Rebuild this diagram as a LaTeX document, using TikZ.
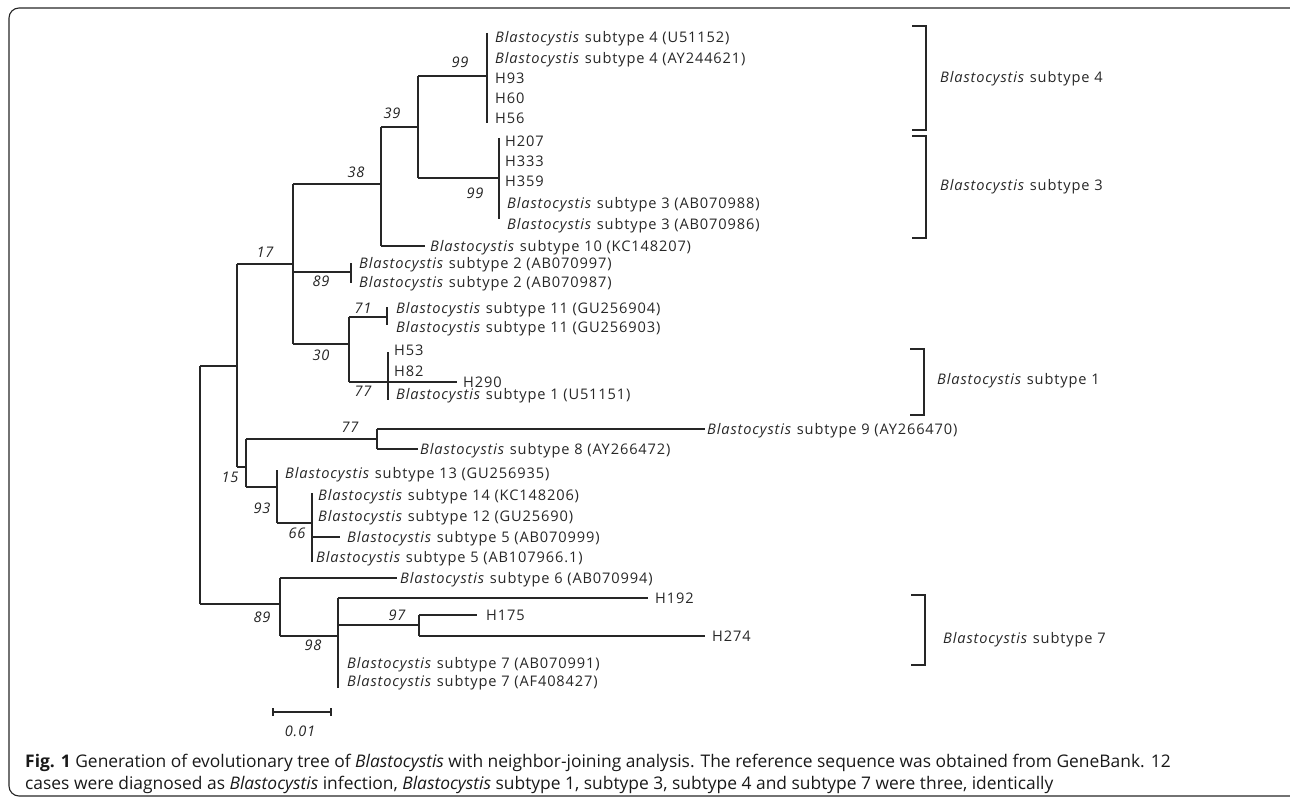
\documentclass[tikz,border=0pt]{standalone}
\usepackage{fontspec}
\setmainfont{Open Sans}
\newfontfamily\lblfam[LetterSpace=6]{Open Sans}
\newcommand\Bl{\textit{Blastocystis}}
\newcommand\lblf{\lblfam\fontsize{14.6}{17}\selectfont}
\begin{document}
\begin{tikzpicture}[x=1pt,y=-1pt,
  br/.style={line width=1.3pt, draw=black!85},
  lab/.style={anchor=base west, yshift=-5.2pt, inner sep=0pt, font=\lblf, text=black!85},
  bs/.style={anchor=base, yshift=-5.2pt, inner sep=0pt, font=\lblf\itshape, text=black!85},
  grp/.style={anchor=base west, yshift=-5.2pt, inner sep=0pt, font=\lblf, text=black!85},
  brk/.style={line width=1.3pt, draw=black!85},
  captxt/.style={anchor=base west, inner sep=0pt, font=\fontsize{17.4}{21}\selectfont, text=black!90},
  frm/.style={line width=1.1pt, draw=black!85, rounded corners=10pt}]
\useasboundingbox (0,0) rectangle (1290,797);
\begin{scope}
\clip (0,0) rectangle (1290,797);
\draw[frm] (9,8) rectangle (1300,796);
\end{scope}
% ---- internal nodes
\coordinate (R) at (200,485);
\coordinate (A) at (237,366);
\coordinate (N17) at (293,264);
\coordinate (N38) at (381,184);
\coordinate (N39) at (418,127);
\coordinate (N99a) at (487,76);
\coordinate (N99b) at (499,178);
\coordinate (T10) at (425,246);
\coordinate (N89a) at (351,272);
\coordinate (N30) at (349,344);
\coordinate (N71) at (387,317);
\coordinate (N77a) at (388,382);
\coordinate (N15) at (246,467);
\coordinate (N77b) at (377,439);
\coordinate (T9) at (705,429);
\coordinate (T8) at (418,449);
\coordinate (N93) at (277,487);
\coordinate (N66) at (312,523);
\coordinate (T5a) at (340,537);
\coordinate (N89b) at (280,604);
\coordinate (T6) at (397,578);
\coordinate (N98) at (338,636);
\coordinate (TH192) at (648,598);
\coordinate (N97) at (419,625);
\coordinate (TH175) at (477,615);
\coordinate (TH274) at (705,636);
\coordinate (TH290) at (457,382);
% collapsed clade extents
\coordinate (c4t) at (487,33);  \coordinate (c4b) at (487,123);
\coordinate (c3t) at (499,138); \coordinate (c3b) at (499,219);
\coordinate (c2t) at (351,263); \coordinate (c2b) at (351,283);
\coordinate (c11t) at (387,307); \coordinate (c11b) at (387,325);
\coordinate (c1t) at (388,352); \coordinate (c1b) at (388,400);
\coordinate (c13t) at (277,470);
\coordinate (c66t) at (312,493); \coordinate (c66b) at (312,562);
\coordinate (c7b) at (338,688);
% ---- branches
\draw[br] (R |- A) -- (R |- N89b);
\draw[br] (R |- A) -- (A);
\draw[br] (R |- N89b) -- (N89b);
\draw[br] (A |- N17) -- (A |- N15);
\draw[br] (A |- N17) -- (N17);
\draw[br] (A |- N15) -- (N15);
\draw[br] (N17 |- N38) -- (N17 |- N30);
\draw[br] (N17 |- N38) -- (N38);
\draw[br] (N17 |- N89a) -- (N89a);
\draw[br] (N17 |- N30) -- (N30);
\draw[br] (N38 |- N39) -- (N38 |- T10);
\draw[br] (N38 |- N39) -- (N39);
\draw[br] (N38 |- T10) -- (T10);
\draw[br] (N39 |- N99a) -- (N39 |- N99b);
\draw[br] (N39 |- N99a) -- (N99a);
\draw[br] (N39 |- N99b) -- (N99b);
\draw[br] (c4t) -- (c4b);
\draw[br] (c3t) -- (c3b);
\draw[br] (c2t) -- (c2b);
\draw[br] (N30 |- N71) -- (N30 |- N77a);
\draw[br] (N30 |- N71) -- (N71);
\draw[br] (N30 |- N77a) -- (N77a);
\draw[br] (c11t) -- (c11b);
\draw[br] (c1t) -- (c1b);
\draw[br] (N77a) -- (TH290);
\draw[br] (N15 |- N77b) -- (N15 |- N93);
\draw[br] (N15 |- N77b) -- (N77b);
\draw[br] (N15 |- N93) -- (N93);
\draw[br] (N77b |- T9) -- (N77b |- T8);
\draw[br] (N77b |- T9) -- (T9);
\draw[br] (N77b |- T8) -- (T8);
\draw[br] (c13t) -- (N93 |- N66);
\draw[br] (N93 |- N66) -- (N66);
\draw[br] (c66t) -- (c66b);
\draw[br] (N66 |- T5a) -- (T5a);
\draw[br] (N89b |- T6) -- (N89b |- N98);
\draw[br] (N89b |- T6) -- (T6);
\draw[br] (N89b |- N98) -- (N98);
\draw[br] (N98 |- TH192) -- (c7b);
\draw[br] (N98 |- TH192) -- (TH192);
\draw[br] (N98 |- N97) -- (N97);
\draw[br] (N97 |- TH175) -- (N97 |- TH274);
\draw[br] (N97 |- TH175) -- (TH175);
\draw[br] (N97 |- TH274) -- (TH274);
% ---- leaf labels
\node[lab] (s4a) at (495,37) {\Bl\ subtype 4 (U51152)};
\node[lab] (s4b) at (495,58) {\Bl\ subtype 4 (AY244621)};
\node[lab] (h93) at (495,78) {H93};
\node[lab] (h60) at (495,98) {H60};
\node[lab] (h56) at (495,118) {H56};
\node[lab] (h207) at (505,141) {H207};
\node[lab] (h333) at (505,161) {H333};
\node[lab] (h359) at (505,181) {H359};
\node[lab] (s3a) at (507,203) {\Bl\ subtype 3 (AB070988)};
\node[lab] (s3b) at (507,224) {\Bl\ subtype 3 (AB070986)};
\node[lab] (s10) at (430,246) {\Bl\ subtype 10 (KC148207)};
\node[lab] (s2a) at (359,263) {\Bl\ subtype 2 (AB070997)};
\node[lab] (s2b) at (359,282) {\Bl\ subtype 2 (AB070987)};
\node[lab] (s11a) at (396,308) {\Bl\ subtype 11 (GU256904)};
\node[lab] (s11b) at (396,327) {\Bl\ subtype 11 (GU256903)};
\node[lab] (h53) at (394,350) {H53};
\node[lab] (h82) at (394,371) {H82};
\node[lab] (h290) at (463,382) {H290};
\node[lab] (s1) at (396,394) {\Bl\ subtype 1 (U51151)};
\node[lab] (s9) at (707,429) {\Bl\ subtype 9 (AY266470)};
\node[lab] (s8) at (420,449) {\Bl\ subtype 8 (AY266472)};
\node[lab] (s13) at (285,473) {\Bl\ subtype 13 (GU256935)};
\node[lab] (s14) at (318,495) {\Bl\ subtype 14 (KC148206)};
\node[lab] (s12) at (318,516) {\Bl\ subtype 12 (GU25690)};
\node[lab] (s5a) at (347,537) {\Bl\ subtype 5 (AB070999)};
\node[lab] (s5b) at (316,557) {\Bl\ subtype 5 (AB107966.1)};
\node[lab] (s6) at (400,578) {\Bl\ subtype 6 (AB070994)};
\node[lab] (h192) at (655,598) {H192};
\node[lab] (h175) at (486,615) {H175};
\node[lab] (h274) at (712,636) {H274};
\node[lab] (s7a) at (347,663) {\Bl\ subtype 7 (AB070991)};
\node[lab] (s7b) at (347,681) {\Bl\ subtype 7 (AF408427)};
% ---- bootstrap values
\node[bs] (b99a) at (460,62) {99};
\node[bs] (b39) at (392,113) {39};
\node[bs] (b99b) at (475,193) {99};
\node[bs] (b38) at (356,172) {38};
\node[bs] (b17) at (265,252) {17};
\node[bs] (b89a) at (321,281) {89};
\node[bs] (b71) at (363,308) {71};
\node[bs] (b30) at (321,355) {30};
\node[bs] (b77a) at (363,391) {77};
\node[bs] (b77b) at (350,427) {77};
\node[bs] (b15) at (230,477) {15};
\node[bs] (b93) at (262,508) {93};
\node[bs] (b66) at (297,533) {66};
\node[bs] (b89b) at (262,617) {89};
\node[bs] (b97) at (397,615) {97};
\node[bs] (b98) at (313,645) {98};
% ---- group brackets
\coordinate (g4a) at (912,26); \coordinate (g4b) at (926,26); \coordinate (g4c) at (926,130); \coordinate (g4d) at (912,130);
\draw[brk] (g4a) -- (g4b) -- (g4c) -- (g4d);
\coordinate (g3a) at (912,136); \coordinate (g3b) at (926,136); \coordinate (g3c) at (926,238); \coordinate (g3d) at (912,238);
\draw[brk] (g3a) -- (g3b) -- (g3c) -- (g3d);
\coordinate (g1a) at (910,349); \coordinate (g1b) at (924,349); \coordinate (g1c) at (924,415); \coordinate (g1d) at (910,415);
\draw[brk] (g1a) -- (g1b) -- (g1c) -- (g1d);
\coordinate (g7a) at (911,595); \coordinate (g7b) at (925,595); \coordinate (g7c) at (925,665); \coordinate (g7d) at (911,665);
\draw[brk] (g7a) -- (g7b) -- (g7c) -- (g7d);
\node[grp] (G4) at (940,77) {\Bl\ subtype 4};
\node[grp] (G3) at (940,185) {\Bl\ subtype 3};
\node[grp] (G1) at (937,379) {\Bl\ subtype 1};
\node[grp] (G7) at (943,638) {\Bl\ subtype 7};
% ---- scale bar
\coordinate (sbl) at (273,712); \coordinate (sbr) at (331,712);
\draw[br] (sbl) -- (sbr);
\draw[br] ([yshift=-4pt]sbl) -- ([yshift=4pt]sbl);
\draw[br] ([yshift=-4pt]sbr) -- ([yshift=4pt]sbr);
\node[bs] (sbt) at (300,731) {0.01};
% ---- caption
\node[captxt] (cap1) at (25,767) {\textbf{Fig. 1} Generation of evolutionary tree of \textit{Blastocystis} with neighbor-joining analysis. The reference sequence was obtained from GeneBank. 12};
\node[captxt] (cap2) at (25,789) {cases were diagnosed as \textit{Blastocystis} infection, \textit{Blastocystis} subtype 1, subtype 3, subtype 4 and subtype 7 were three, identically};
\end{tikzpicture}
\end{document}
